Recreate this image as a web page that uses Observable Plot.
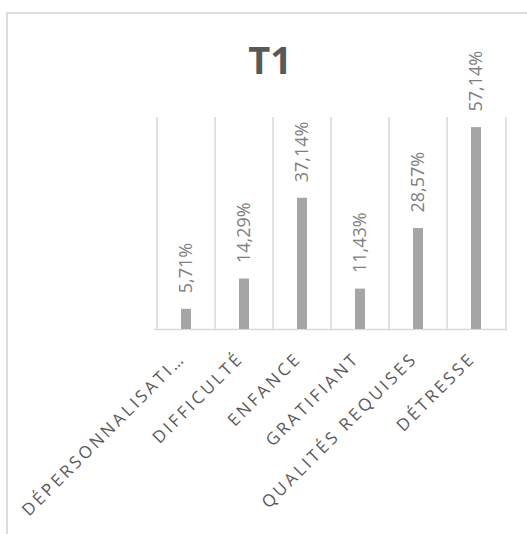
<!DOCTYPE html>
<html>
<head>
<meta charset="utf-8">
<script src="https://cdn.jsdelivr.net/npm/d3@7"></script>
<script src="https://cdn.jsdelivr.net/npm/@observablehq/plot@0.6"></script>
<style>
  html, body { margin: 0; padding: 0; background: #fff; }
  #wrap { position: relative; width: 527px; height: 534px; overflow: hidden; background: #fff; }
  #frame { position: absolute; left: 6px; top: 12px; width: 700px; height: 700px; border: 2px solid #dcdcdc; }
  #chart { position: absolute; left: 0; top: 0; }
</style>
</head>
<body>
<div id="wrap"><div id="frame"></div><div id="chart"></div></div>
<script>
const title = "T1";
const categories = ["DÉPERSONNALISATION", "DIFFICULTÉ", "ENFANCE", "GRATIFIANT", "QUALITÉS REQUISES", "DÉTRESSE"];
const values = [5.71, 14.29, 37.14, 11.43, 28.57, 57.14];
const yMax = 60;

const data = categories.map((c, i) => ({cat: c, val: values[i]}));
const fmt = v => v.toFixed(2).replace(".", ",") + "%";
const short = s => s.length > 17 ? s.slice(0, 16) + "…" : s;

const W = 527, H = 534, mL = 154, mR = 20, mT = 117, mB = 205;
const bw = (W - mL - mR) / categories.length;

const plot = Plot.plot({
  width: W, height: H,
  marginLeft: mL, marginRight: mR, marginTop: mT, marginBottom: mB,
  style: {background: "transparent", fontFamily: "'Open Sans', sans-serif"},
  x: {type: "band", domain: categories, padding: 0, axis: null},
  y: {domain: [0, yMax], axis: null},
  marks: [
    Plot.ruleX(categories, {x: d => d, y1: 0, y2: yMax, dx: -bw / 2, stroke: "#d9d9d9", strokeWidth: 1.5}),
    Plot.ruleX([categories[categories.length - 1]], {x: d => d, y1: 0, y2: yMax, dx: bw / 2, stroke: "#d9d9d9", strokeWidth: 1.5}),
    Plot.ruleY([0], {stroke: "#d9d9d9", strokeWidth: 1.5}),
    Plot.barY(data, {x: "cat", y: "val", fill: "#a5a5a5", insetLeft: 24, insetRight: 24}),
    Plot.text(data, {x: "cat", y: "val", text: d => fmt(d.val), rotate: -90, textAnchor: "start", lineAnchor: "middle", dy: -16, fontSize: 18, fill: "#808080"}),
    Plot.text(categories, {x: d => d, frameAnchor: "bottom", text: d => short(d), rotate: -45, textAnchor: "end", lineAnchor: "bottom", dx: 0, dy: 30, fontSize: 17, fill: "#595959", className: "xlab"})
  ]
});

d3.select(plot).selectAll(".xlab text").style("letter-spacing", "3px");
d3.select(plot).append("text")
  .attr("x", 270).attr("y", 74)
  .attr("text-anchor", "middle")
  .attr("font-family", "'Open Sans', sans-serif")
  .attr("font-weight", "bold")
  .attr("font-size", 38)
  .attr("fill", "#595959")
  .text(title);

document.getElementById("chart").appendChild(plot);
</script>
</body>
</html>
